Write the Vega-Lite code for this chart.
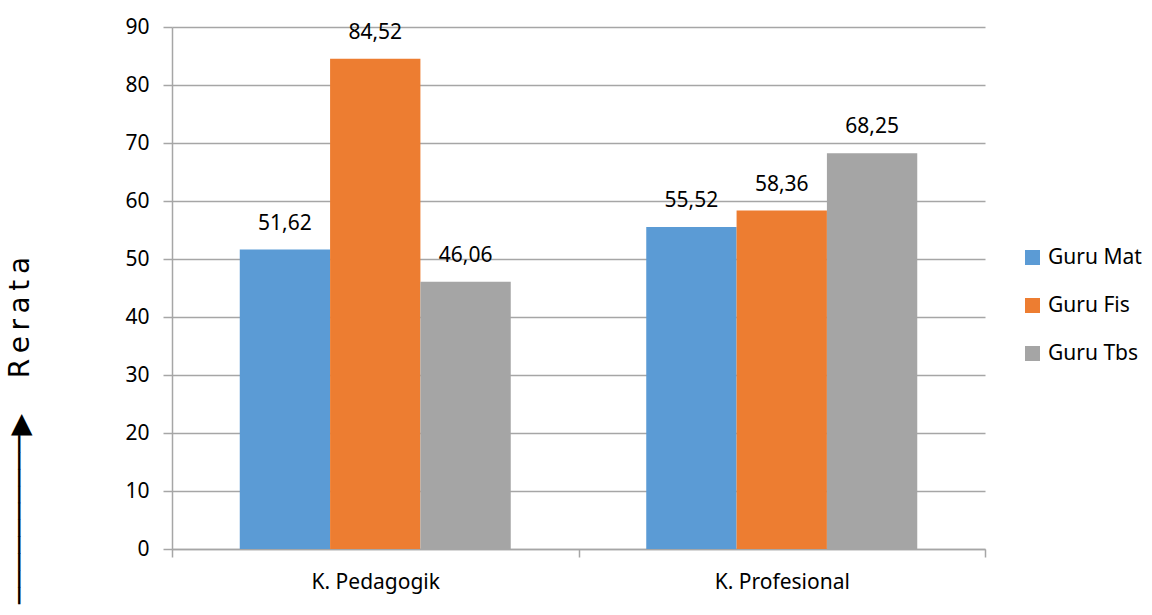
{
  "$schema": "https://vega.github.io/schema/vega-lite/v6.json",
  "width": 813,
  "height": 522,
  "autosize": {"type": "none"},
  "padding": {"left": 172, "top": 27, "right": 167, "bottom": 66},
  "background": "white",
  "config": {
    "locale": {"number": {"decimal": ",", "thousands": ".", "grouping": [3], "currency": ["", ""]}},
    "view": {"stroke": null},
    "font": "Noto Sans"
  },
  "data": {
    "values": [
      {"kat": "K. Pedagogik", "guru": "Guru Mat", "nilai": 51.62},
      {"kat": "K. Pedagogik", "guru": "Guru Fis", "nilai": 84.52},
      {"kat": "K. Pedagogik", "guru": "Guru Tbs", "nilai": 46.06},
      {"kat": "K. Profesional", "guru": "Guru Mat", "nilai": 55.52},
      {"kat": "K. Profesional", "guru": "Guru Fis", "nilai": 58.36},
      {"kat": "K. Profesional", "guru": "Guru Tbs", "nilai": 68.25}
    ]
  },
  "encoding": {
    "x": {
      "field": "kat", "type": "nominal", "sort": ["K. Pedagogik", "K. Profesional"],
      "scale": {"paddingInner": 0, "paddingOuter": 0},
      "axis": {
        "title": null, "labelAngle": 0, "labelFontSize": 21, "labelColor": "#000000",
        "labelPadding": 14, "tickBand": "extent", "tickSize": 8,
        "tickColor": "#A6A6A6", "domainColor": "#A6A6A6", "domainWidth": 1.5, "tickWidth": 1.5
      }
    },
    "xOffset": {
      "field": "guru", "type": "nominal", "sort": ["Guru Mat", "Guru Fis", "Guru Tbs"],
      "scale": {"paddingInner": 0, "paddingOuter": 0.75}
    },
    "y": {
      "field": "nilai", "type": "quantitative",
      "scale": {"domain": [0, 90], "nice": false},
      "axis": {
        "values": [0, 10, 20, 30, 40, 50, 60, 70, 80, 90],
        "labelFontSize": 21, "labelColor": "#000000", "labelPadding": 14,
        "tickSize": 9, "tickColor": "#A6A6A6", "tickWidth": 1.5,
        "domainColor": "#A6A6A6", "domainWidth": 1.5,
        "grid": true, "gridColor": "#A6A6A6", "gridWidth": 1.5,
        "title": "──────────▶\u00a0\u00a0\u00a0\u00a0R\u2009e\u2009r\u2009a\u2009t\u2009a",
        "titleFont": "DejaVu Sans", "titleFontSize": 28, "titleFontWeight": "normal",
        "titleColor": "#000000", "titleAngle": 270, "titleAlign": "center", "titleBaseline": "middle",
        "titleX": -152, "titleY": 403
      }
    }
  },
  "layer": [
    {
      "mark": {"type": "bar"},
      "encoding": {
        "color": {
          "field": "guru", "type": "nominal", "sort": ["Guru Mat", "Guru Fis", "Guru Tbs"],
          "scale": {"domain": ["Guru Mat", "Guru Fis", "Guru Tbs"], "range": ["#5B9BD5", "#ED7D31", "#A5A5A5"]},
          "legend": {
            "title": null, "orient": "none", "legendX": 850, "legendY": 220,
            "symbolType": "square", "symbolSize": 225, "symbolStrokeWidth": 0,
            "labelFontSize": 21, "labelColor": "#000000", "labelOffset": 5, "rowPadding": 26
          }
        }
      }
    },
    {
      "mark": {"type": "text", "dy": -26, "baseline": "middle", "fontSize": 21, "color": "#000000"},
      "encoding": {"text": {"field": "nilai", "type": "quantitative", "format": ".2f"}}
    }
  ]
}
